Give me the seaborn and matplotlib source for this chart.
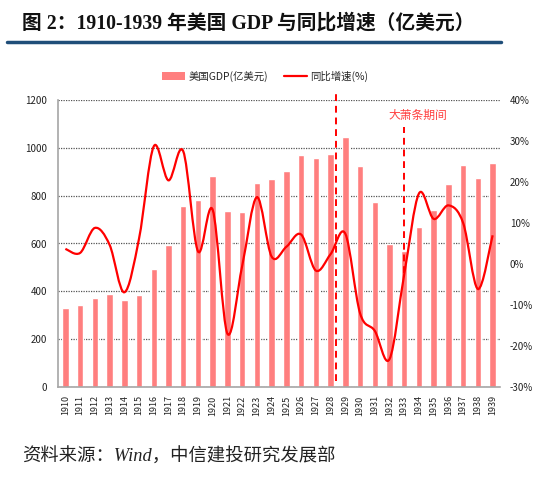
import numpy as np
import matplotlib
matplotlib.use("Agg")
import matplotlib.pyplot as plt
from matplotlib.path import Path
from matplotlib.patches import PathPatch
from matplotlib.lines import Line2D
from matplotlib.patches import Patch
import seaborn as sns

# data
years = [str(y) for y in range(1910, 1940)]
gdp = [331, 341, 372, 390, 362, 383, 494, 594, 757, 781,
       883, 735, 732, 852, 870, 905, 969, 956, 975, 1044,
       923, 773, 596, 568, 670, 742, 849, 929, 873, 936]
growth = [3.7, 2.7, 8.8, 4.7, -6.9, 6.2, 28.7, 20.4, 27.5, 3.1,
          13.2, -17.0, -0.5, 16.3, 1.8, 4.2, 7.2, -1.6, 2.4, 7.4,
          -12.0, -16.3, -23.2, -2.5, 17.2, 11.0, 14.3, 10.0, -6.1, 7.0]

bar_color = "#FF7F7F"
line_color = "#FF0000"

sns.set_theme(style="white")
plt.rcParams["font.family"] = ["Noto Sans CJK SC", "DejaVu Sans"]
serif_cjk = ["Liberation Serif", "Noto Sans CJK SC"]

fig = plt.figure(figsize=(5.54, 4.8), dpi=100)
ax1 = fig.add_axes([58 / 554, 1 - 387 / 480, 442 / 554, 287 / 480])

sns.barplot(x=years, y=gdp, color=bar_color, saturation=1, width=0.44, ax=ax1)
ax1.set_xlim(-0.5, 29.5)
ax1.set_ylim(0, 1200)
ax1.set_yticks(range(0, 1201, 200))
ax1.set_xlabel("")
ax1.set_ylabel("")
ax1.yaxis.grid(True, linestyle=(0, (1, 1)), color="#555555", linewidth=0.9)
ax1.set_axisbelow(True)
ax1.tick_params(axis="y", length=0, pad=8, labelsize=7, labelcolor="#222222")
ax1.tick_params(axis="x", length=0, pad=6, labelsize=6.5, labelcolor="#222222",
                labelrotation=90)
for s in ["top", "right"]:
    ax1.spines[s].set_visible(False)
for s in ["left", "bottom"]:
    ax1.spines[s].set_color("#A6A6A6")
    ax1.spines[s].set_linewidth(1.2)

ax2 = ax1.twinx()
ax2.set_ylim(-30, 40)
ax2.set_yticks(range(-30, 41, 10))
ax2.set_yticklabels([f"{v}%" for v in range(-30, 41, 10)])
ax2.tick_params(axis="y", length=0, pad=7, labelsize=7, labelcolor="#222222")
for s in ax2.spines.values():
    s.set_visible(False)
ax2.grid(False)

# smoothed growth line (Excel-style bezier through the points)
xs = np.arange(len(growth), dtype=float)
ys = np.array(growth, dtype=float)
verts = [(xs[0], ys[0])]
codes = [Path.MOVETO]
n = len(xs)
for i in range(n - 1):
    p0 = (xs[i - 1], ys[i - 1]) if i > 0 else (xs[i], ys[i])
    p1 = (xs[i], ys[i])
    p2 = (xs[i + 1], ys[i + 1])
    p3 = (xs[i + 2], ys[i + 2]) if i + 2 < n else p2
    c1 = (p1[0] + (p2[0] - p0[0]) / 6, p1[1] + (p2[1] - p0[1]) / 6)
    c2 = (p2[0] - (p3[0] - p1[0]) / 6, p2[1] - (p3[1] - p1[1]) / 6)
    verts += [c1, c2, p2]
    codes += [Path.CURVE4] * 3
ax2.add_patch(PathPatch(Path(verts, codes), transform=ax2.transData,
                        fill=False, edgecolor=line_color, linewidth=1.6,
                        zorder=3))

# depression markers
ax2.vlines(18.4, -28.6, 41.6, colors=line_color, linestyles=(0, (3.5, 2.5)),
           linewidth=1.4, clip_on=False)
ax2.vlines(23, -2.2, 33.4, colors=line_color, linestyles=(0, (3.5, 2.5)),
           linewidth=1.4, clip_on=False)
ax2.text(23.9, 36.3, "大萧条期间", color="#FF4040", fontsize=8.5,
         ha="center", va="center")

# legend
handles = [Patch(facecolor=bar_color, edgecolor="none"),
           Line2D([0], [0], color=line_color, linewidth=1.6)]
fig.legend(handles, ["美国GDP(亿美元)", "同比增速(%)"], loc="center",
           bbox_to_anchor=(265 / 554, 1 - 76 / 480), ncol=2, frameon=False,
           fontsize=7.5, handlelength=2.2, handleheight=0.8, columnspacing=1.5,
           handletextpad=0.3)

# title and rule
fig.text(22 / 554, 1 - 23 / 480, "图 2：1910-1939 年美国 GDP 与同比增速（亿美元）",
         fontsize=14.2, fontweight="bold", family=serif_cjk,
         ha="left", va="center", color="#111111")
fig.add_artist(Line2D([7 / 554, 501 / 554], [1 - 42 / 480, 1 - 42 / 480],
                      color="#1F4E79", linewidth=2.5))

fig.text(22 / 554, 1 - 457 / 480, "资料来源：Wind，中信建投研究发展部",
         fontsize=13.2, style="italic", family=serif_cjk,
         ha="left", va="center", color="#222222")

fig.savefig("out.png", dpi=100)
